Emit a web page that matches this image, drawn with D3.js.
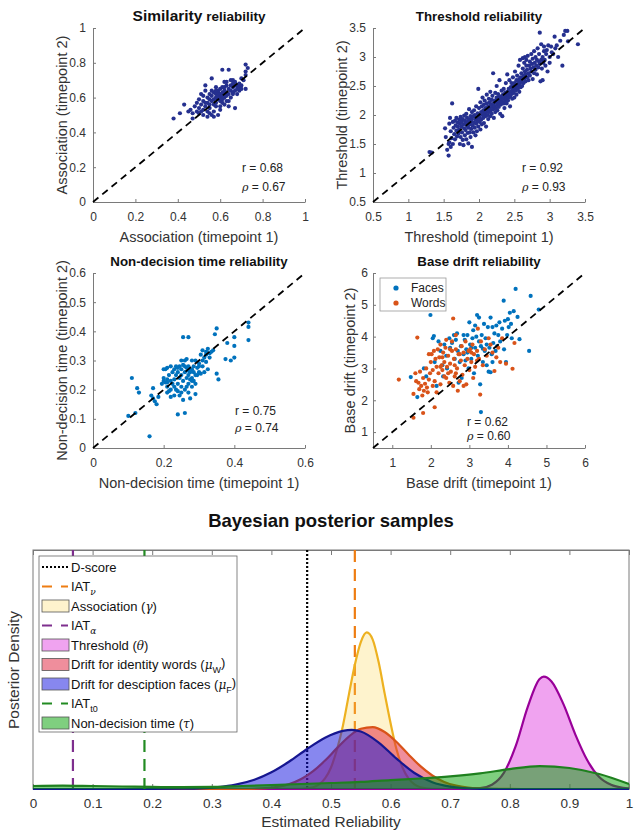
<!DOCTYPE html>
<html>
<head>
<meta charset="utf-8">
<script src="https://cdn.jsdelivr.net/npm/d3@7"></script>
<style>
  body { margin: 0; background: #fff; }
  svg { font-family: "Liberation Sans", Arial, sans-serif; }
</style>
</head>
<body>
<svg id="fig" width="634" height="833"></svg>
<script>
// ---- data ----

// similarity: association at timepoint 1 vs timepoint 2
var simPoints = [
  [0.38,0.48],[0.41,0.51],[0.43,0.56],[0.45,0.52],[0.46,0.53],[0.47,0.48],[0.47,0.51],[0.48,0.55],[0.49,0.52],[0.49,0.57],
  [0.50,0.59],[0.50,0.54],[0.51,0.56],[0.51,0.52],[0.51,0.62],[0.52,0.61],[0.52,0.58],[0.52,0.53],[0.53,0.64],[0.53,0.57],
  [0.53,0.55],[0.53,0.67],[0.54,0.60],[0.54,0.57],[0.54,0.52],[0.55,0.59],[0.55,0.56],[0.55,0.54],[0.55,0.62],[0.56,0.58],
  [0.56,0.50],[0.56,0.61],[0.56,0.64],[0.56,0.71],[0.57,0.59],[0.57,0.56],[0.57,0.63],[0.57,0.52],[0.58,0.60],[0.58,0.62],
  [0.58,0.57],[0.58,0.55],[0.58,0.66],[0.59,0.61],[0.59,0.63],[0.59,0.59],[0.59,0.50],[0.59,0.64],[0.60,0.62],[0.60,0.58],
  [0.60,0.65],[0.60,0.55],[0.60,0.60],[0.61,0.63],[0.61,0.76],[0.61,0.59],[0.61,0.61],[0.61,0.57],[0.62,0.64],[0.62,0.62],
  [0.62,0.66],[0.62,0.60],[0.62,0.56],[0.63,0.63],[0.63,0.61],[0.63,0.67],[0.63,0.58],[0.64,0.65],[0.64,0.62],[0.64,0.76],
  [0.64,0.55],[0.65,0.67],[0.65,0.64],[0.65,0.70],[0.65,0.60],[0.66,0.66],[0.66,0.63],[0.66,0.70],[0.67,0.67],[0.67,0.64],
  [0.67,0.54],[0.67,0.69],[0.68,0.65],[0.68,0.67],[0.69,0.68],[0.69,0.64],[0.69,0.66],[0.70,0.67],[0.70,0.71],[0.70,0.65],
  [0.71,0.70],[0.72,0.73],[0.72,0.65],[0.72,0.79],[0.73,0.77],[0.72,0.75],[0.60,0.53],[0.57,0.49],[0.54,0.49],[0.63,0.69],
  [0.64,0.58],[0.66,0.62],[0.58,0.64],[0.61,0.66],[0.55,0.51],[0.52,0.50],[0.50,0.51],[0.66,0.68],[0.68,0.62],[0.62,0.69]
];

// threshold at timepoint 1 vs timepoint 2
var threshPoints = [
  [1.30,1.36],[1.33,1.35],[1.52,1.77],[1.53,1.62],[1.55,1.40],[1.57,1.30],[1.57,1.50],[1.58,1.53],[1.58,1.85],[1.59,1.95],
  [1.60,1.45],[1.60,1.72],[1.61,1.60],[1.62,2.20],[1.63,1.88],[1.63,1.50],[1.64,1.78],[1.65,1.67],[1.66,1.90],[1.66,1.58],
  [1.67,1.82],[1.68,1.73],[1.68,1.95],[1.69,1.63],[1.70,1.87],[1.70,1.80],[1.71,1.68],[1.72,1.92],[1.72,1.75],[1.73,1.85],
  [1.73,1.50],[1.74,1.97],[1.74,1.62],[1.75,1.80],[1.75,1.88],[1.76,1.70],[1.77,1.93],[1.77,1.57],[1.78,1.84],[1.78,1.48],
  [1.79,1.77],[1.79,1.99],[1.80,1.90],[1.80,1.65],[1.81,1.86],[1.81,1.74],[1.82,2.02],[1.82,1.58],[1.83,1.81],[1.83,1.95],
  [1.84,1.69],[1.84,1.88],[1.85,1.51],[1.85,1.78],[1.86,1.92],[1.86,2.10],[1.87,1.84],[1.87,1.70],[1.88,1.98],[1.88,1.62],
  [1.89,1.88],[1.89,1.76],[1.90,2.05],[1.90,1.45],[1.90,1.93],[1.91,1.82],[1.92,1.98],[1.92,1.70],[1.93,2.08],[1.93,1.87],
  [1.94,1.78],[1.94,2.00],[1.95,1.92],[1.95,1.65],[1.96,2.15],[1.96,1.85],[1.97,1.96],[1.97,1.72],[1.98,2.03],[1.98,1.90],
  [1.99,2.45],[1.99,1.80],[2.00,2.00],[2.00,2.12],[2.01,1.88],[2.01,1.95],[2.02,2.22],[2.02,1.75],[2.03,2.05],[2.03,1.92],
  [2.04,2.15],[2.04,1.84],[2.05,2.00],[2.05,2.30],[2.06,1.95],[2.06,2.08],[2.07,2.18],[2.07,1.86],[2.08,2.03],[2.08,2.25],
  [2.09,1.98],[2.09,2.12],[2.10,2.05],[2.10,1.80],[2.11,2.20],[2.11,2.35],[2.12,2.00],[2.12,2.10],[2.13,2.15],[2.13,1.93],
  [2.14,2.28],[2.14,2.05],[2.15,2.12],[2.15,2.22],[2.16,1.98],[2.16,2.40],[2.17,2.08],[2.17,2.18],[2.18,2.26],[2.18,2.02],
  [2.19,2.14],[2.19,2.33],[2.20,2.72],[2.20,2.10],[2.21,2.20],[2.21,1.95],[2.22,2.25],[2.22,2.15],[2.23,2.05],[2.23,2.38],
  [2.24,2.22],[2.24,2.12],[2.25,2.30],[2.25,2.50],[2.26,2.18],[2.26,2.08],[2.27,2.26],[2.27,2.36],[2.28,2.20],[2.28,2.14],
  [2.29,2.30],[2.29,2.60],[2.30,2.24],[2.30,2.02],[2.31,2.32],[2.31,2.18],[2.32,2.27],[2.32,2.42],[2.33,2.22],[2.33,1.98],
  [2.34,2.35],[2.34,2.28],[2.35,2.20],[2.35,2.45],[2.36,2.30],[2.36,2.12],[2.37,2.38],[2.37,2.25],[2.38,2.33],[2.38,2.55],
  [2.39,2.28],[2.39,2.20],[2.40,2.40],[2.40,2.70],[2.41,2.35],[2.41,2.25],[2.42,2.45],[2.42,2.30],[2.43,2.38],[2.43,2.60],
  [2.44,2.32],[2.44,2.15],[2.45,2.48],[2.45,2.40],[2.46,2.36],[2.46,2.55],[2.47,2.42],[2.47,2.28],[2.48,2.50],[2.48,2.65],
  [2.49,2.45],[2.49,2.38],[2.50,2.55],[2.50,2.30],[2.51,2.48],[2.51,2.75],[2.52,2.52],[2.52,2.42],[2.53,2.60],[2.53,2.35],
  [2.54,2.50],[2.54,2.68],[2.55,2.45],[2.55,2.58],[2.56,2.85],[2.56,2.52],[2.57,2.62],[2.57,2.40],[2.58,2.55],[2.58,2.95],
  [2.59,2.65],[2.59,2.48],[2.60,2.58],[2.60,2.72],[2.61,2.62],[2.61,2.50],[2.62,2.80],[2.62,2.98],[2.63,2.68],[2.63,2.55],
  [2.64,2.90],[2.64,2.62],[2.65,2.75],[2.65,3.00],[2.66,2.58],[2.66,2.70],[2.67,2.85],[2.67,2.95],[2.68,2.65],[2.68,2.78],
  [2.69,3.02],[2.70,2.72],[2.70,2.60],[2.71,2.85],[2.72,2.92],[2.72,2.68],[2.73,2.80],[2.74,3.05],[2.74,2.75],[2.75,2.88],
  [2.76,2.62],[2.76,2.97],[2.77,2.82],[2.78,2.72],[2.78,3.10],[2.79,2.90],[2.80,2.78],[2.80,3.00],[2.81,2.85],[2.82,2.70],
  [2.82,2.95],[2.83,3.15],[2.84,2.82],[2.85,2.92],[2.85,3.05],[2.86,2.88],[2.86,3.42],[2.87,2.58],[2.88,2.95],[2.88,3.22],
  [2.89,2.80],[2.90,3.00],[2.90,2.60],[2.91,2.90],[2.92,3.10],[2.92,3.18],[2.93,2.95],[2.94,2.85],[2.95,3.05],[2.96,3.12],
  [2.97,2.75],[2.98,3.20],[3.00,3.00],[3.00,2.90],[3.02,3.18],[3.03,3.08],[3.05,3.05],[3.07,3.35],[3.08,3.15],[3.10,3.20],
  [3.12,3.00],[3.15,3.28],[3.18,2.85],[3.20,3.38],[3.22,3.45],[3.25,3.45],[3.26,3.27],[3.40,3.22]
];

// non-decision time at timepoint 1 vs timepoint 2
var ndtPoints = [
  [0.10,0.11],[0.11,0.24],[0.12,0.12],[0.125,0.205],[0.13,0.19],[0.16,0.04],[0.165,0.18],[0.17,0.205],[0.17,0.17],[0.175,0.16],
  [0.18,0.15],[0.185,0.175],[0.195,0.22],[0.20,0.23],[0.20,0.27],[0.20,0.24],[0.205,0.225],[0.21,0.21],[0.21,0.235],[0.21,0.275],
  [0.21,0.19],[0.215,0.25],[0.22,0.28],[0.22,0.23],[0.22,0.20],[0.225,0.22],[0.225,0.26],[0.23,0.18],[0.23,0.27],[0.23,0.235],
  [0.235,0.25],[0.235,0.20],[0.24,0.275],[0.24,0.22],[0.24,0.26],[0.24,0.115],[0.245,0.24],[0.245,0.28],[0.25,0.21],[0.25,0.27],
  [0.25,0.25],[0.25,0.19],[0.255,0.38],[0.255,0.23],[0.255,0.285],[0.26,0.26],[0.26,0.20],[0.26,0.12],[0.26,0.30],[0.265,0.24],
  [0.265,0.275],[0.27,0.38],[0.27,0.25],[0.27,0.22],[0.27,0.28],[0.275,0.26],[0.275,0.17],[0.28,0.24],[0.28,0.27],[0.28,0.21],
  [0.285,0.26],[0.285,0.23],[0.29,0.25],[0.29,0.185],[0.29,0.30],[0.295,0.275],[0.30,0.28],[0.30,0.29],[0.305,0.32],[0.31,0.335],
  [0.31,0.30],[0.315,0.31],[0.315,0.26],[0.32,0.32],[0.32,0.33],[0.32,0.295],[0.325,0.34],[0.325,0.27],[0.33,0.325],[0.33,0.31],
  [0.335,0.33],[0.34,0.335],[0.345,0.39],[0.35,0.41],[0.35,0.255],[0.355,0.235],[0.38,0.36],[0.375,0.305],[0.39,0.30],[0.40,0.35],
  [0.40,0.38],[0.40,0.31],[0.44,0.43],[0.44,0.415],[0.44,0.37],[0.21,0.225],[0.205,0.27],[0.215,0.195],[0.22,0.175],[0.23,0.21],
  [0.24,0.195],[0.245,0.18],[0.255,0.165],[0.265,0.21],[0.27,0.19],[0.28,0.23],[0.29,0.22],[0.295,0.25],[0.30,0.26],[0.31,0.28],
  [0.305,0.255],[0.265,0.305],[0.25,0.30],[0.28,0.30],[0.26,0.28],[0.27,0.265],[0.285,0.28],[0.275,0.235],[0.235,0.28]
];

// base drift, faces
var facePoints = [
  [1.48,2.73],[1.65,2.10],[1.82,3.00],[1.88,2.75],[1.99,4.68],[2.05,3.95],[2.08,4.02],[2.10,3.20],[2.15,2.45],[2.20,3.85],
  [2.25,3.55],[2.30,3.10],[2.32,2.75],[2.35,3.75],[2.40,3.40],[2.42,3.00],[2.48,3.95],[2.50,3.65],[2.55,3.80],[2.60,4.05],
  [2.62,3.30],[2.65,3.90],[2.68,4.10],[2.70,3.55],[2.72,2.55],[2.75,3.20],[2.78,3.70],[2.80,2.70],[2.85,3.45],[2.88,3.90],
  [2.90,3.25],[2.92,3.60],[2.95,4.05],[2.98,3.00],[3.00,4.45],[3.02,3.75],[3.05,3.30],[3.08,3.95],[3.10,4.20],[3.12,2.85],
  [3.15,3.65],[3.18,4.00],[3.20,4.68],[3.22,3.40],[3.25,3.85],[3.28,2.50],[3.30,1.63],[3.30,3.70],[3.32,4.05],[3.35,3.20],
  [3.38,4.40],[3.40,3.55],[3.42,3.95],[3.45,3.10],[3.48,4.30],[3.50,2.90],[3.52,3.65],[3.55,4.60],[3.55,2.88],[3.58,3.45],
  [3.60,4.30],[3.62,3.80],[3.65,4.10],[3.68,3.55],[3.70,4.35],[3.72,3.70],[3.75,4.05],[3.78,4.45],[3.80,3.85],[3.85,4.25],
  [3.89,5.13],[3.90,3.60],[3.92,4.50],[3.95,3.20],[3.98,4.05],[4.00,4.55],[4.02,4.30],[4.05,4.75],[4.08,4.40],[4.10,3.95],
  [4.15,4.80],[4.20,5.50],[4.25,4.62],[4.30,3.92],[4.55,3.55],[4.59,5.28],[4.80,4.85],[3.05,3.65],[3.15,4.35],[2.95,3.50],
  [3.35,3.62],[3.45,3.75],[2.85,4.05],[3.25,4.60],[3.60,3.20]
];

// base drift, words
var wordPoints = [
  [1.17,2.65],[1.55,1.45],[1.55,2.20],[1.60,2.85],[1.62,2.60],[1.65,3.97],[1.68,2.55],[1.70,2.35],[1.72,2.90],[1.75,2.45],
  [1.78,2.15],[1.80,2.70],[1.80,1.60],[1.82,2.30],[1.85,2.52],[1.88,3.00],[1.90,2.40],[1.92,2.25],[1.95,2.65],[1.98,2.85],
  [2.00,3.20],[2.02,3.45],[2.05,2.95],[2.08,3.55],[2.10,1.78],[2.10,2.60],[2.12,3.30],[2.15,3.05],[2.18,3.60],[2.20,2.85],
  [2.22,3.35],[2.25,2.50],[2.25,3.75],[2.28,3.10],[2.30,2.95],[2.32,3.50],[2.35,3.20],[2.38,3.65],[2.40,2.70],[2.40,3.90],
  [2.42,3.05],[2.45,3.40],[2.48,2.55],[2.50,3.15],[2.52,2.90],[2.55,3.55],[2.58,4.57],[2.58,2.45],[2.60,3.30],[2.62,2.75],
  [2.65,3.60],[2.65,4.05],[2.68,3.00],[2.70,2.30],[2.72,3.45],[2.75,2.60],[2.78,3.25],[2.80,3.70],[2.82,2.80],[2.85,3.50],
  [2.88,3.10],[2.90,3.85],[2.92,2.50],[2.95,3.30],[2.98,3.55],[3.00,2.95],[3.02,3.60],[3.05,3.20],[3.08,3.75],[3.10,2.70],
  [3.12,3.45],[3.15,3.05],[3.20,3.55],[3.22,4.25],[3.25,3.30],[3.28,2.18],[3.30,3.85],[3.35,3.10],[3.40,3.60],[3.45,3.40],
  [3.50,3.95],[3.55,3.75],[3.60,3.50],[3.65,2.92],[3.70,3.35],[3.75,3.65],[3.80,3.20],[3.85,3.95],[3.95,3.15],[4.12,2.99],
  [4.17,3.80],[2.35,2.75],[2.05,2.45],[2.15,2.25],[2.45,2.85],[2.55,3.85],[2.30,3.35],[1.95,3.45],[2.62,3.10],[2.75,3.45],
  [2.85,2.45],[3.05,3.50],[3.20,3.25],[2.65,2.85],[2.25,3.05],[2.50,3.60]
];

// correlation labels
var simStats = ['0.68', '0.67'];
var threshStats = ['0.92', '0.93'];
var ndtStats = ['0.75', '0.74'];
var driftStats = ['0.62', '0.60'];

// ticks
var simTicks = [0, 0.2, 0.4, 0.6, 0.8, 1];
var threshTicks = [0.5, 1, 1.5, 2, 2.5, 3, 3.5];
var ndtXTicks = [0, 0.2, 0.4, 0.6];
var ndtYTicks = [0, 0.1, 0.2, 0.3, 0.4, 0.5, 0.6];
var driftTicks = [1, 2, 3, 4, 5, 6];
var relTicks = [0, 0.1, 0.2, 0.3, 0.4, 0.5, 0.6, 0.7, 0.8, 0.9, 1];

// posterior densities: [reliability, density]
var assocDensity = [
  [0,0],[0.40,0],[0.45,0.02],[0.47,0.15],[0.48,0.38],[0.49,0.88],[0.50,1.8],[0.51,3.3],[0.52,5.3],[0.53,7.9],
  [0.54,10.4],[0.55,12.3],[0.56,13.1],[0.57,12.5],[0.58,10.6],[0.59,8.0],[0.60,5.5],[0.61,3.3],[0.62,1.8],[0.63,0.88],
  [0.64,0.38],[0.65,0.15],[0.67,0.02],[0.72,0],[1,0]
];
var threshDensity = [
  [0,0],[0.70,0],[0.75,0.07],[0.77,0.36],[0.79,1.35],[0.81,3.6],[0.83,6.85],[0.85,9.2],[0.857,9.4],[0.87,9.0],
  [0.89,7.1],[0.91,4.55],[0.93,2.4],[0.95,1.0],[0.97,0.35],[0.99,0.1],[1,0.05]
];
var wordsDensity = [
  [0,0],[0.30,0],[0.35,0.01],[0.39,0.07],[0.41,0.18],[0.43,0.41],[0.45,0.83],[0.47,1.49],[0.49,2.38],[0.51,3.42],
  [0.53,4.39],[0.55,5.04],[0.57,5.18],[0.59,4.77],[0.61,3.93],[0.63,2.89],[0.65,1.91],[0.67,1.13],[0.69,0.59],[0.71,0.28],
  [0.73,0.12],[0.75,0.05],[0.77,0.02],[0.82,0],[1,0]
];
var facesDensity = [
  [0,0],[0.20,0],[0.25,0.02],[0.28,0.05],[0.31,0.15],[0.34,0.36],[0.37,0.75],[0.40,1.4],[0.43,2.3],[0.46,3.35],
  [0.49,4.29],[0.52,4.86],[0.535,4.94],[0.55,4.81],[0.58,3.89],[0.61,2.54],[0.64,1.34],[0.67,0.57],[0.70,0.2],[0.73,0.05],
  [0.76,0.01],[0.80,0],[1,0]
];
var ndtDensity = [
  [0,0.25],[0.05,0.29],[0.10,0.25],[0.15,0.21],[0.20,0.17],[0.25,0.15],[0.30,0.17],[0.35,0.25],[0.40,0.33],[0.45,0.42],
  [0.50,0.50],[0.55,0.59],[0.60,0.75],[0.65,0.88],[0.70,1.05],[0.75,1.3],[0.80,1.67],[0.85,1.92],[0.90,1.76],[0.95,1.26],
  [1.00,0.42]
];

// reliability point estimates
var dScore = 0.46;
var iatNu = 0.54;
var iatAlpha = 0.067;
var iatT0 = 0.187;


// ---- drawing ----

var svg = d3.select('#fig');
var fmt = d3.format('~g');
var axisGrey = '#7a7a7a';
var textGrey = '#333';


function styleAxis(g) {
  g.attr('color', textGrey);
  g.selectAll('.domain').attr('stroke', axisGrey);
  g.selectAll('.tick line').attr('stroke', axisGrey);
  g.selectAll('text').attr('font-size', 12).attr('font-family', 'Liberation Sans, Arial, sans-serif');
}


function drawScatter(p) {
  var x = d3.scaleLinear().domain(p.xDomain).range([p.left, p.right]);
  var y = d3.scaleLinear().domain(p.yDomain).range([p.bottom, p.top]);
  var g = svg.append('g');

  g.append('g')
    .attr('transform', 'translate(0,' + p.bottom + ')')
    .call(d3.axisBottom(x).tickValues(p.xTicks).tickFormat(fmt)
      .tickSizeInner(-3).tickSizeOuter(0).tickPadding(10))
    .call(styleAxis);

  g.append('g')
    .attr('transform', 'translate(' + p.left + ',0)')
    .call(d3.axisLeft(y).tickValues(p.yTicks).tickFormat(fmt)
      .tickSizeInner(-3).tickSizeOuter(0).tickPadding(p.yPad || 7))
    .call(styleAxis);

  p.series.forEach(function(s) {
    g.append('g')
      .selectAll('circle')
      .data(s.points)
      .join('circle')
        .attr('cx', function(d) { return x(d[0]); })
        .attr('cy', function(d) { return y(d[1]); })
        .attr('r', 2.1)
        .attr('fill', s.color);
  });

  var lo = Math.max(p.xDomain[0], p.yDomain[0]);
  var hi = Math.min(p.xDomain[1], p.yDomain[1]);
  g.append('line')
    .attr('x1', x(lo)).attr('y1', y(lo))
    .attr('x2', x(hi)).attr('y2', y(hi))
    .attr('stroke', '#000')
    .attr('stroke-width', 1.8)
    .attr('stroke-dasharray', '7,5');

  var title = g.append('text')
    .attr('x', (p.left + p.right) / 2)
    .attr('y', p.top - 7)
    .attr('text-anchor', 'middle')
    .attr('font-weight', 'bold')
    .attr('fill', '#111');
  p.title.forEach(function(t) {
    title.append('tspan').attr('font-size', t[1]).text(t[0]);
  });

  g.append('text')
    .attr('x', (p.left + p.right) / 2)
    .attr('y', p.bottom + 40)
    .attr('text-anchor', 'middle')
    .attr('font-size', 14.5)
    .attr('fill', textGrey)
    .text(p.xLabel);

  g.append('text')
    .attr('transform', 'translate(' + p.yLabelX + ',' + ((p.top + p.bottom) / 2) + ') rotate(-90)')
    .attr('dy', '0.35em')
    .attr('text-anchor', 'middle')
    .attr('font-size', 14.5)
    .attr('fill', textGrey)
    .text(p.yLabel);

  g.append('text')
    .attr('x', p.statX).attr('y', p.statY[0])
    .attr('dy', '0.35em')
    .attr('font-size', 12)
    .attr('fill', '#222')
    .text('r = ' + p.stats[0]);

  var rho = g.append('text')
    .attr('x', p.statX).attr('y', p.statY[1])
    .attr('dy', '0.35em')
    .attr('font-size', 12)
    .attr('fill', '#222');
  rho.append('tspan').attr('font-style', 'italic').attr('font-family', 'DejaVu Serif, serif').attr('font-size', 11).text('ρ');
  rho.append('tspan').text(' = ' + p.stats[1]);

  return g;
}


drawScatter({
  left: 93, right: 305, top: 28, bottom: 202,
  xDomain: [0, 1], yDomain: [0, 1], xTicks: simTicks, yTicks: simTicks,
  title: [['Similarity', 15.5], [' reliability', 13.5]],
  xLabel: 'Association (timepoint 1)', yLabel: 'Association (timepoint 2)', yLabelX: 62,
  series: [{points: simPoints, color: '#25308f'}],
  stats: simStats, statX: 242, statY: [168, 187]
});

drawScatter({
  left: 373, right: 585, top: 28, bottom: 202,
  xDomain: [0.5, 3.5], yDomain: [0.5, 3.5], xTicks: threshTicks, yTicks: threshTicks,
  title: [['Threshold reliability', 13.3]],
  xLabel: 'Threshold (timepoint 1)', yLabel: 'Threshold (timepoint 2)', yLabelX: 342,
  series: [{points: threshPoints, color: '#25308f'}],
  stats: threshStats, statX: 522, statY: [168, 187]
});

drawScatter({
  left: 93, right: 305, top: 273, bottom: 448,
  xDomain: [0, 0.6], yDomain: [0, 0.6], xTicks: ndtXTicks, yTicks: ndtYTicks,
  title: [['Non-decision time reliability', 13.3]],
  xLabel: 'Non-decision time (timepoint 1)', yLabel: 'Non-decision time (timepoint 2)', yLabelX: 62,
  series: [{points: ndtPoints, color: '#0072bd'}],
  stats: ndtStats, statX: 235, statY: [411, 428]
});

var driftPanel = drawScatter({
  left: 373, right: 585, top: 273, bottom: 448,
  xDomain: [0.5, 6], yDomain: [0.5, 6], xTicks: driftTicks, yTicks: driftTicks,
  title: [['Base drift reliability', 13.3]],
  xLabel: 'Base drift (timepoint 1)', yLabel: 'Base drift (timepoint 2)', yLabelX: 350, yPad: 5,
  series: [{points: facePoints, color: '#0072bd'}, {points: wordPoints, color: '#d95319'}],
  stats: driftStats, statX: 467, statY: [422, 436]
});

// legend for the drift panel
var dl = driftPanel.append('g').attr('transform', 'translate(380,278)');
dl.append('rect')
  .attr('width', 66).attr('height', 33)
  .attr('fill', '#fff').attr('stroke', '#999').attr('stroke-width', 0.8);
[['Faces', '#0072bd'], ['Words', '#d95319']].forEach(function(e, i) {
  dl.append('circle').attr('cx', 16).attr('cy', 10 + i * 15).attr('r', 2.6).attr('fill', e[1]);
  dl.append('text').attr('x', 31).attr('y', 10 + i * 15).attr('dy', '0.35em')
    .attr('font-size', 12).attr('fill', '#222').text(e[0]);
});


// ---- posterior densities ----

var bx = d3.scaleLinear().domain([0, 1]).range([33, 629]);
var by = d3.scaleLinear().domain([0, 20]).range([789, 550]);
var bottomPanel = svg.append('g');

bottomPanel.append('text')
  .attr('x', 331).attr('y', 527)
  .attr('text-anchor', 'middle')
  .attr('font-weight', 'bold')
  .attr('font-size', 18.5)
  .attr('fill', '#111')
  .text('Bayesian posterior samples');

bottomPanel.append('rect')
  .attr('x', bx(0)).attr('y', by(20))
  .attr('width', bx(1) - bx(0)).attr('height', by(0) - by(20))
  .attr('fill', 'none').attr('stroke', axisGrey);

bottomPanel.append('g')
  .attr('transform', 'translate(0,' + by(0) + ')')
  .call(d3.axisBottom(bx).tickValues(relTicks).tickFormat(fmt)
    .tickSizeInner(-5).tickSizeOuter(0).tickPadding(9))
  .call(styleAxis)
  .call(function(g) { g.selectAll('text').attr('font-size', 13.5); });

bottomPanel.append('g')
  .attr('transform', 'translate(0,' + by(20) + ')')
  .call(d3.axisTop(bx).tickValues(relTicks).tickFormat('')
    .tickSizeInner(-5).tickSizeOuter(0))
  .call(styleAxis);

bottomPanel.append('text')
  .attr('x', 331).attr('y', 827)
  .attr('text-anchor', 'middle')
  .attr('font-size', 15.5)
  .attr('fill', textGrey)
  .text('Estimated Reliability');

bottomPanel.append('text')
  .attr('transform', 'translate(14,670) rotate(-90)')
  .attr('dy', '0.35em')
  .attr('text-anchor', 'middle')
  .attr('font-size', 15.5)
  .attr('fill', textGrey)
  .text('Posterior Density');

var area = d3.area()
  .x(function(d) { return bx(d[0]); })
  .y0(by(0))
  .y1(function(d) { return by(d[1]); })
  .curve(d3.curveMonotoneX);

var line = d3.line()
  .x(function(d) { return bx(d[0]); })
  .y(function(d) { return by(d[1]); })
  .curve(d3.curveMonotoneX);

function vline(v, color, dash) {
  bottomPanel.append('line')
    .attr('x1', bx(v)).attr('x2', bx(v))
    .attr('y1', by(20)).attr('y2', by(0))
    .attr('stroke', color)
    .attr('stroke-width', 2.2)
    .attr('stroke-dasharray', dash);
}

function density(data, fill, opacity, stroke) {
  bottomPanel.append('path')
    .datum(data)
    .attr('d', area)
    .attr('fill', fill)
    .attr('fill-opacity', opacity);
  bottomPanel.append('path')
    .datum(data)
    .attr('d', line)
    .attr('fill', 'none')
    .attr('stroke', stroke)
    .attr('stroke-width', 2.2);
}

var legendItems = [
  {kind: 'line', color: '#000', dash: '2,2', label: [['D-score']]},
  {kind: 'line', color: '#ee7d12', dash: '10,9', label: [['IAT'], ['ν', 'sub']]},
  {kind: 'patch', fill: '#fbd34d', opacity: 0.28, label: [['Association ('], ['γ', 'greek'], [')']]},
  {kind: 'line', color: '#7e2f8e', dash: '10,9', label: [['IAT'], ['α', 'sub']]},
  {kind: 'patch', fill: '#dd33dd', opacity: 0.45, label: [['Threshold ('], ['θ', 'greek'], [')']]},
  {kind: 'patch', fill: '#e01e3a', opacity: 0.5, label: [['Drift for identity words ('], ['μ', 'greek'], ['W', 'sub'], [')']]},
  {kind: 'patch', fill: '#1010e0', opacity: 0.5, label: [['Drift for desciption faces ('], ['μ', 'greek'], ['F', 'sub'], [')']]},
  {kind: 'line', color: '#228b22', dash: '10,9', label: [['IAT'], ['t0', 'sub']]},
  {kind: 'patch', fill: '#00a000', opacity: 0.5, label: [['Non-decision time ('], ['τ', 'greek'], [')']]}
];

vline(dScore, '#000', '2,2');
vline(iatNu, '#ee7d12', '12,7');
density(assocDensity, '#fbd34d', 0.28, '#edb120');
vline(iatAlpha, '#7e2f8e', '12,7');
density(threshDensity, '#dd33dd', 0.45, '#990099');
density(wordsDensity, '#e01e3a', 0.5, '#d95319');
density(facesDensity, '#1010e0', 0.5, '#161690');
vline(iatT0, '#228b22', '12,7');
density(ndtDensity, '#00a000', 0.5, '#1f801f');

// legend
var lg = bottomPanel.append('g').attr('transform', 'translate(39,556)');
lg.append('rect')
  .attr('width', 198).attr('height', 176)
  .attr('fill', '#fff').attr('stroke', '#666').attr('stroke-width', 0.8);

legendItems.forEach(function(item, i) {
  var cy = 11 + i * 19.5;
  if (item.kind === 'line') {
    lg.append('line')
      .attr('x1', 3).attr('x2', 29).attr('y1', cy).attr('y2', cy)
      .attr('stroke', item.color).attr('stroke-width', 2.2)
      .attr('stroke-dasharray', item.dash);
  } else {
    lg.append('rect')
      .attr('x', 3).attr('y', cy - 6).attr('width', 27).attr('height', 12)
      .attr('fill', item.fill).attr('fill-opacity', item.opacity)
      .attr('stroke', '#555').attr('stroke-width', 0.8);
  }
  var t = lg.append('text')
    .attr('x', 32).attr('y', cy).attr('dy', '0.35em')
    .attr('font-size', 13).attr('fill', '#111');
  item.label.forEach(function(part) {
    var ts = t.append('tspan').text(part[0]);
    if (part[1] === 'sub') {
      ts.attr('font-size', 9).attr('dy', '0.45em');
      if (part[0] === 'ν' || part[0] === 'α') ts.attr('font-style', 'italic').attr('font-family', 'DejaVu Serif, serif');
    } else if (part[1] === 'greek') {
      ts.attr('font-style', 'italic').attr('font-family', 'DejaVu Serif, serif').attr('font-size', 12);
    }
  });
  // undo the subscript shift for any following tspan
  t.selectAll('tspan').each(function(d, j, nodes) {
    var prev = j > 0 ? d3.select(nodes[j - 1]) : null;
    if (prev && prev.attr('dy') === '0.45em' && !d3.select(this).attr('dy')) {
      d3.select(this).attr('dy', '-0.45em');
    }
  });
});
</script>
</body>
</html>
